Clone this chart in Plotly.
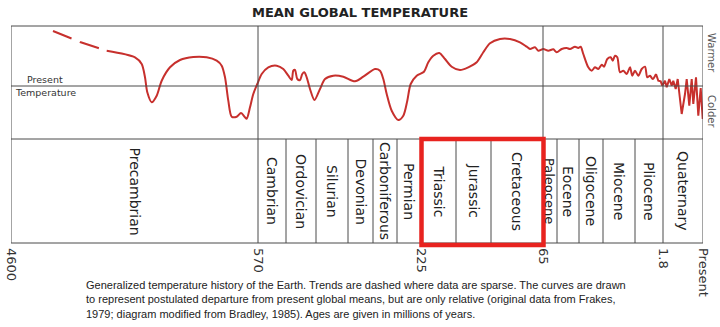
import plotly.graph_objects as go

# ---------------- data ----------------
# horizontal positions are in the diagram's own (non-linear) time layout units
age_labels = ["4600", "570", "225", "65", "1.8", "Present"]
age_pos = [0, 247, 410, 532, 652, 692]

period_names = ["Precambrian", "Cambrian", "Ordovician", "Silurian", "Devonian",
                "Carboniferous", "Permian", "Triassic", "Jurassic", "Cretaceous",
                "Paleocene", "Eocene", "Oligocene", "Miocene", "Pliocene", "Quaternary"]
period_bounds = [0, 247, 275, 305, 337, 362, 386, 410, 445, 480, 532, 546, 568,
                 592, 624, 652, 692]

# sparse (dashed) early trend: relative temperature (0 = present)
sparse_x = [42, 60.7, 69, 87.3, 95.7]
sparse_y = [5.5, 4.75, 4.4, 3.8, 3.53]

# smooth part of the curve
temp_x = [95.7, 124, 130.7, 134, 136.3, 140.7, 145.7, 150.7, 159, 169, 182.3, 195.7,
          205.7, 210.7, 214, 217.3, 220.7, 225.7, 230, 234, 235.7, 239, 242.3, 246.3,
          250.7, 257.3, 265.7, 272.3, 277.3, 280.7, 282.3, 284, 286.3, 289, 291.3,
          293.3, 295.7, 299, 303.5, 309, 314, 322.3, 332.3, 344, 352.3, 364, 369,
          372.3, 375.7, 380.7, 387.3, 392.3, 396.3, 399.7, 405.7, 413, 417.3, 422.3,
          428.3, 434, 440.7, 449, 457.3, 465.7, 472.3, 479, 489, 499, 509, 515.7,
          519, 524, 527.3, 532.3, 537.3, 542.3, 545.7, 550.7, 555.7, 559, 564, 567.3,
          569.7, 572.3, 577.3, 580.7, 584, 587.3, 590.7, 593, 596.3, 599.7, 601.7,
          604, 606.3, 609, 612.3, 615.7, 619, 621.3, 624, 627.3, 630.7, 634, 636.3,
          639, 641.7, 645]
temp_y = [3.53, 2.87, 2.2, 0.87, -0.63, -1.63, -0.97, 0.53, 1.87, 2.6, 2.9, 2.87,
          2.53, 2.03, 0.87, -1.47, -3.07, -3.07, -2.7, -3.13, -3.27, -2.13, -0.8, 0.2,
          1.2, 1.87, 2.03, 1.7, 1.03, 0.6, 1.53, 1.6, 0.7, 0.6, 1.2,
          1.37, 0.87, -0.3, -1.4, -0.3, 0.7, 1.03, 0.93, 0.47, 0.93, 1.7, 1.53,
          0.7, -0.8, -2.47, -3.4, -2.97, -1.47, 0.2, 1.03, 1.43, 2.37, 3.03,
          3.3, 2.7, 1.93, 1.6, 1.87, 2.37, 3.37, 4.27, 4.7, 4.7, 4.37, 3.93,
          3.7, 3.87, 3.53, 3.7, 3.53, 3.67, 3.37, 3.7, 3.8, 3.7, 3.93, 3.8,
          3.93, 3.2, 1.87, 1.53, 1.87, 1.7, 2.13, 1.93, 2.7, 2.87, 2.53,
          3.03, 2.87, 1.37, 1.53, 1.2, 1.87, 1.03, 1.53, 1.03, 1.7, 1.93, 0.87,
          1.03, 0.7, 1.2]

# rapid recent fluctuations
recent_x = [645, 647.3, 649.7, 651.3, 654, 655.7, 658.3, 660.7, 662.3, 664.7, 666.7,
            668.3, 670.7, 674, 675.7, 678.3, 680.7, 682.3, 685, 687.3, 689.7, 691.7]
recent_y = [1.2, 0.53, 0.47, 0.03, 0.53, -0.13, 0.7, 0.03, 0.53, -0.3, 0.7,
            -0.63, -2.8, -0.8, 0.7, -1.97, 0.7, -1.8, 0.87, -2.97, -0.2, -3.3]

caption = ("Generalized temperature history of the Earth. Trends are dashed where data are sparse. The curves are drawn<br>"
           "to represent postulated departure from present global means, but are only relative (original data from Frakes,<br>"
           "1979; diagram modified from Bradley, 1985). Ages are given in millions of years.")

# ---------------- figure ----------------
RED = "#c7302d"
GRID = "#4a4a4a"
SPLIT = 104 / 217  # paper height of the period panel
FONT = "DejaVu Sans"

fig = go.Figure()
fig.add_trace(go.Scatter(x=sparse_x, y=sparse_y, mode="lines",
                         line=dict(color=RED, width=2, dash="20px,9px"),
                         hoverinfo="skip", showlegend=False))
fig.add_trace(go.Scatter(x=temp_x, y=temp_y, mode="lines",
                         line=dict(color=RED, width=2, shape="spline", smoothing=0.8),
                         hoverinfo="skip", showlegend=False))
fig.add_trace(go.Scatter(x=recent_x, y=recent_y, mode="lines",
                         line=dict(color=RED, width=2),
                         hoverinfo="skip", showlegend=False))

shapes = []
# outer frame
shapes.append(dict(type="rect", xref="x", yref="paper", x0=age_pos[0], x1=age_pos[-1],
                   y0=0, y1=1, line=dict(color=GRID, width=1)))
# panel separator
shapes.append(dict(type="line", xref="x", yref="paper", x0=age_pos[0], x1=age_pos[-1],
                   y0=SPLIT, y1=SPLIT, line=dict(color=GRID, width=1)))
# present temperature line
shapes.append(dict(type="line", xref="x", yref="y", x0=age_pos[0], x1=age_pos[-1] + 3,
                   y0=0, y1=0, line=dict(color=GRID, width=1)))
# upper panel era lines
for p in (age_pos[1], age_pos[3], age_pos[4]):
    shapes.append(dict(type="line", xref="x", yref="paper", x0=p, x1=p,
                       y0=SPLIT, y1=1, line=dict(color=GRID, width=1)))
# period dividers
for p in period_bounds[1:-1]:
    shapes.append(dict(type="line", xref="x", yref="paper", x0=p, x1=p,
                       y0=0, y1=SPLIT, line=dict(color=GRID, width=1)))
# red highlight (Mesozoic)
shapes.append(dict(type="rect", xref="x", yref="paper", x0=period_bounds[7] + 0.5,
                   x1=period_bounds[10] + 0.5, y0=-0.009, y1=SPLIT,
                   line=dict(color="#e8231f", width=4.5)))

annotations = []
for i, name in enumerate(period_names):
    cx = (period_bounds[i] + period_bounds[i + 1]) / 2
    annotations.append(dict(x=cx, y=SPLIT / 2, xref="x", yref="paper", text=name,
                            xanchor="center", yanchor="middle",
                            showarrow=False, textangle=90,
                            font=dict(family=FONT, size=13 if name == "Paleocene" else 14,
                                      color="#222")))
annotations.append(dict(x=34, y=0.7, xref="x", yref="y", text="Present", showarrow=False,
                        xanchor="center", yanchor="middle",
                        font=dict(family=FONT, size=9.5, color="#333")))
annotations.append(dict(x=34, y=-0.6, xref="x", yref="y", text="Temperature", showarrow=False,
                        xanchor="center", yanchor="middle",
                        font=dict(family=FONT, size=9.5, color="#333")))
annotations.append(dict(x=1.013, y=3.3, xref="paper", yref="y", text="Warmer", showarrow=False,
                        xanchor="center", yanchor="middle",
                        textangle=90, font=dict(family=FONT, size=10, color="#555")))
annotations.append(dict(x=1.013, y=-2.6, xref="paper", yref="y", text="Colder", showarrow=False,
                        xanchor="center", yanchor="middle",
                        textangle=90, font=dict(family=FONT, size=10, color="#555")))
annotations.append(dict(x=(84 - 11) / 692, y=-0.158, xref="paper", yref="paper",
                        xanchor="left", yanchor="top", align="left", text=caption,
                        showarrow=False,
                        font=dict(family="Liberation Sans Narrow, Arial Narrow, Liberation Sans",
                                  size=11, color="#222")))

fig.update_layout(
    width=720, height=327,
    margin=dict(l=11, r=17, t=26, b=84),
    paper_bgcolor="white", plot_bgcolor="white",
    title=dict(text="<b>MEAN GLOBAL TEMPERATURE</b>", x=0.5, xanchor="center",
               y=1 - 12 / 327, yanchor="middle", yref="container",
               font=dict(family=FONT, size=13, color="#222")),
    xaxis=dict(range=[age_pos[0], age_pos[-1]], showgrid=False, zeroline=False,
               showline=False, tickmode="array", tickvals=age_pos, ticktext=age_labels,
               tickangle=90, ticks="", ticklabelstandoff=4,
               tickfont=dict(family=FONT, size=13, color="#333"),
               anchor="free", position=0, automargin=False, fixedrange=True),
    yaxis=dict(domain=[SPLIT, 1], range=[-5.3, 6.0], visible=False, fixedrange=True),
    shapes=shapes,
    annotations=annotations,
    showlegend=False,
)

fig.write_html("out.html")
